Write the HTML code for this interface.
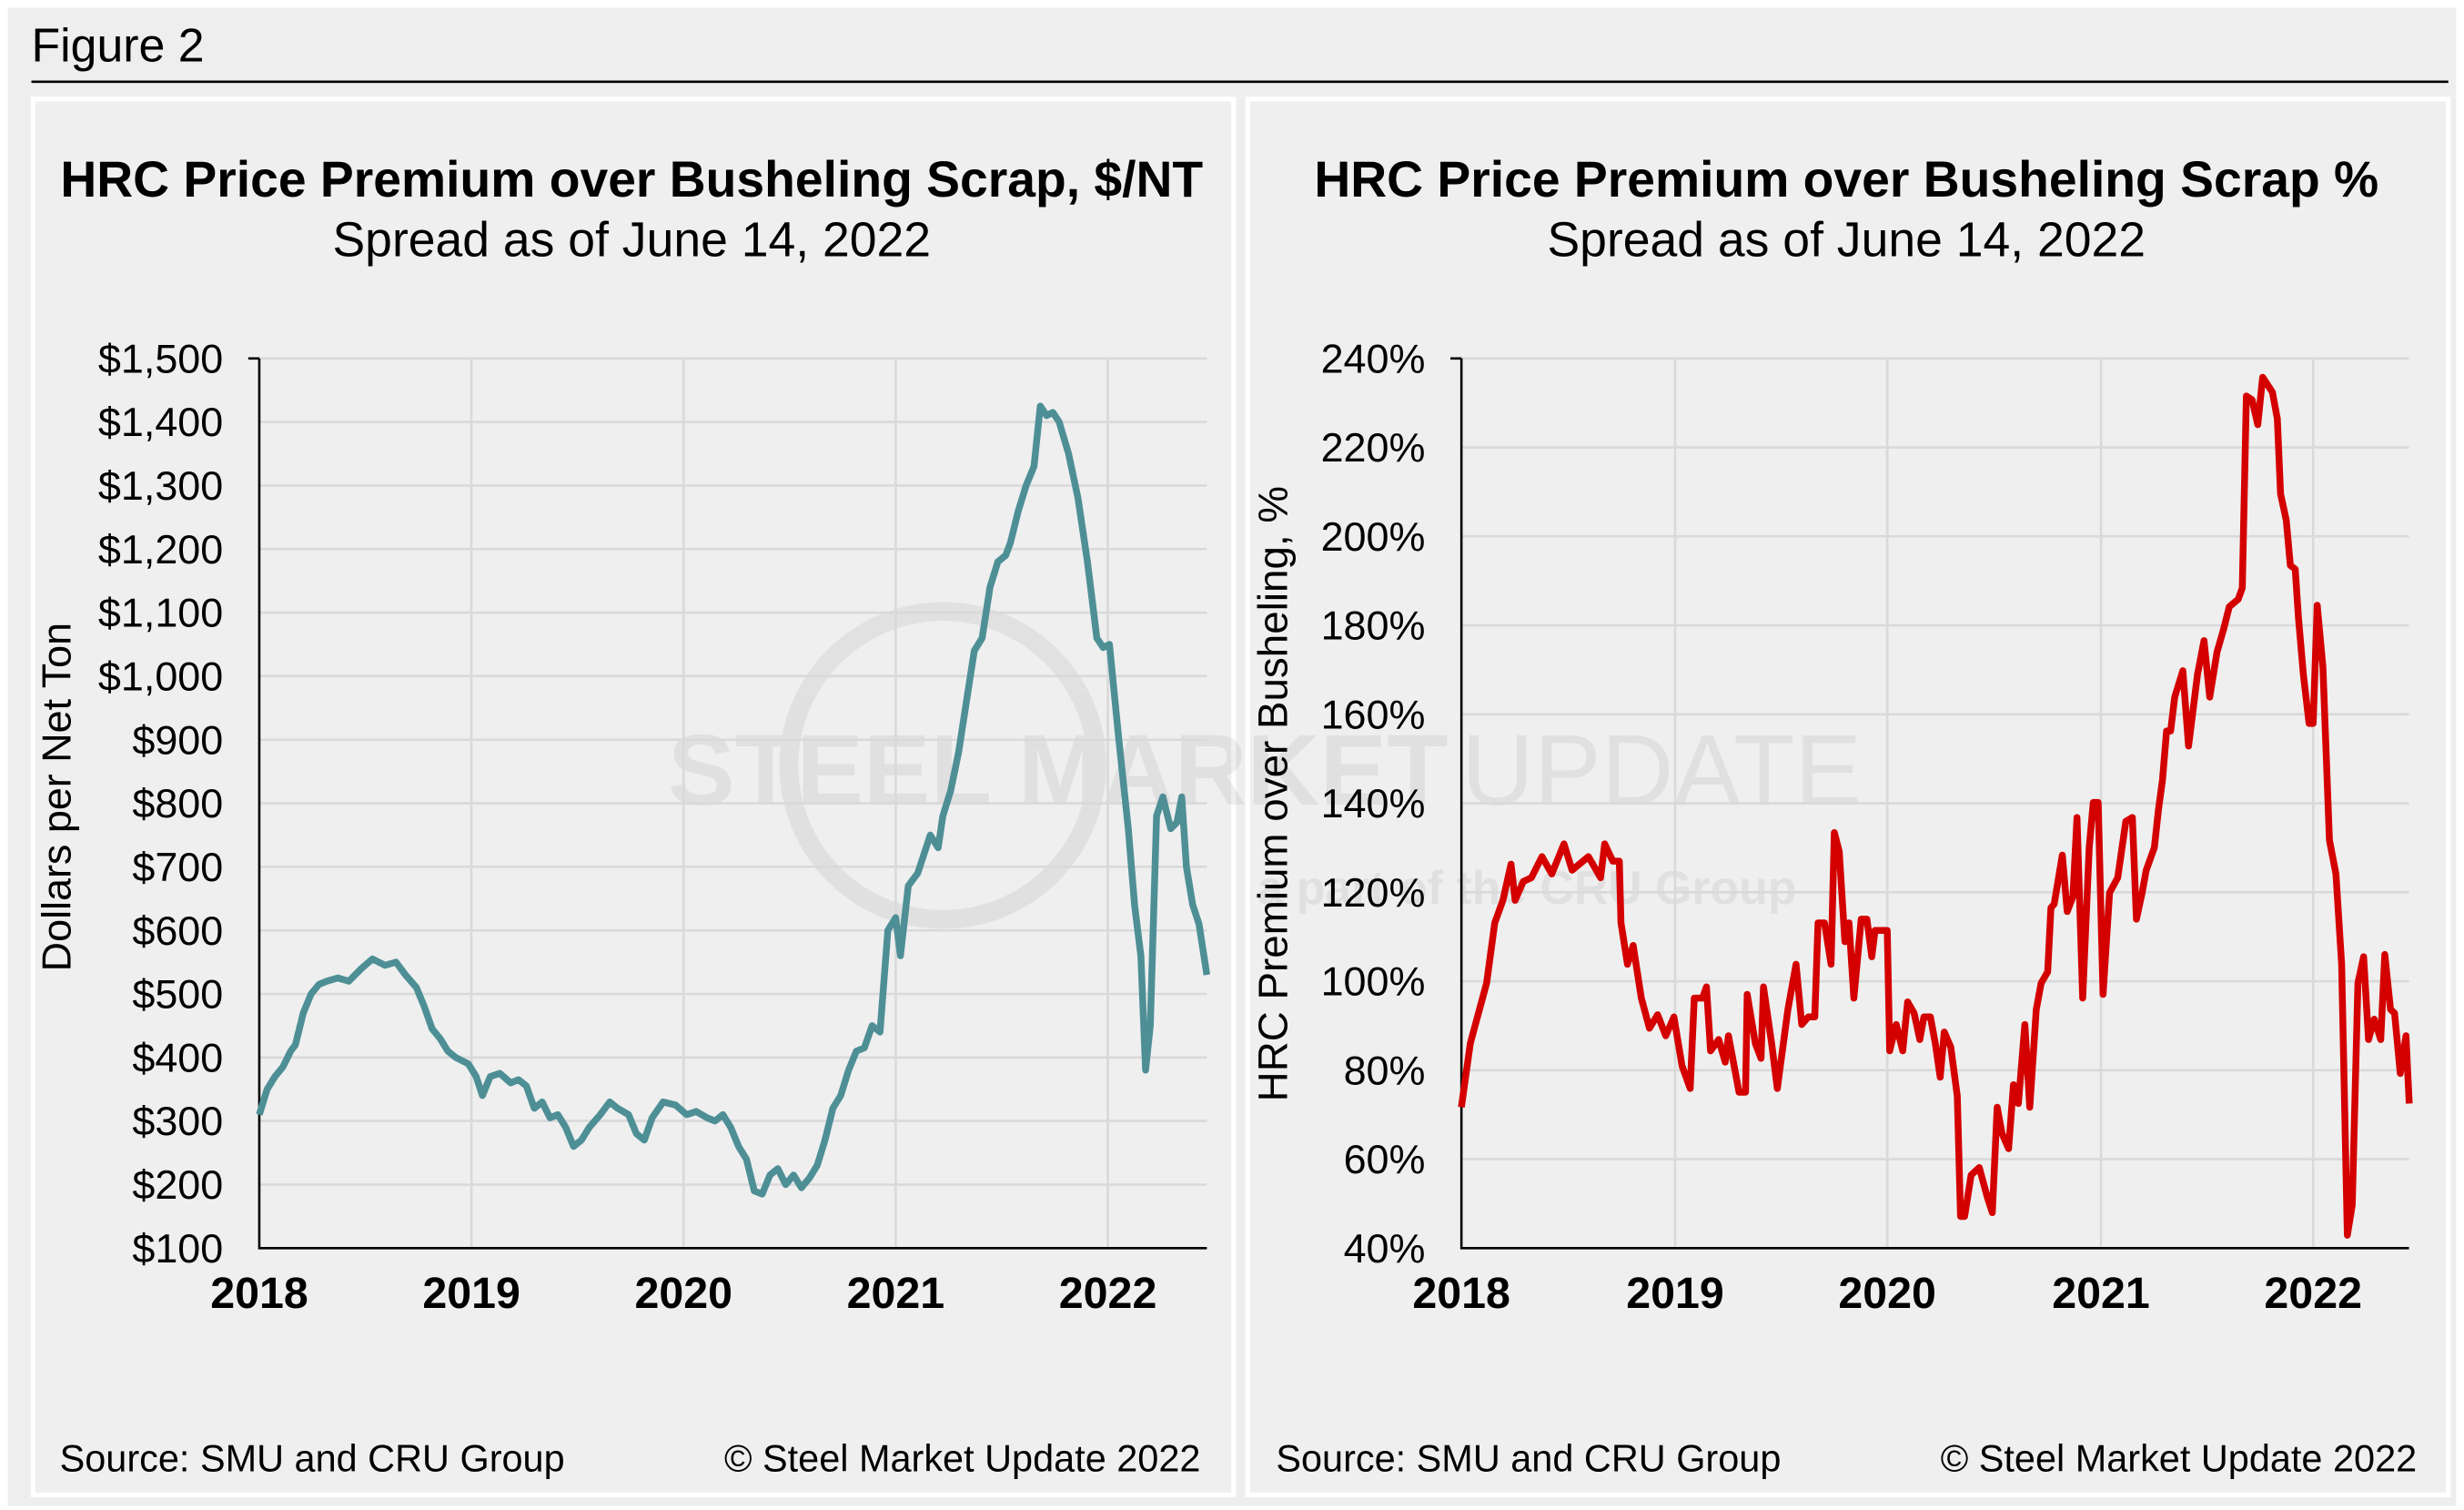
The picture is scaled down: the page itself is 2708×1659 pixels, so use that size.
<!DOCTYPE html>
<html><head><style>html,body{margin:0;padding:0;background:#fff}svg{display:block}</style></head>
<body>
<svg width="2708" height="1659" viewBox="0 0 1568 960.6" xmlns="http://www.w3.org/2000/svg" font-family="Liberation Sans, Arial, sans-serif">
<rect x="5" y="5" width="1558" height="953" fill="#eeeeee"/>
<text x="20" y="39" font-size="30" fill="#000">Figure 2</text>
<line x1="20" y1="52" x2="1558" y2="52" stroke="#000" stroke-width="1.5"/>
<rect x="21" y="63" width="764" height="888" fill="#efefef" stroke="#fff" stroke-width="3"/>
<rect x="794" y="63" width="764" height="888" fill="#efefef" stroke="#fff" stroke-width="3"/>

<!-- watermark -->
<g opacity="0.09" fill="#555">
<circle cx="600" cy="487" r="98" fill="none" stroke="#555" stroke-width="12"/>
<text x="425" y="512" font-size="64" font-weight="bold">STEEL MARKET</text>
<text x="930" y="512" font-size="64">UPDATE</text>
<text x="800" y="575" font-size="30" font-weight="bold">a part of the CRU Group</text>
</g>

<!-- Left chart -->
<text x="402" y="125" font-size="32" font-weight="bold" text-anchor="middle">HRC Price Premium over Busheling Scrap, $/NT</text>
<text x="402" y="163" font-size="31" text-anchor="middle">Spread as of June 14, 2022</text>
<g stroke="#d9d9d9" stroke-width="1.5">
<line x1="165" y1="228" x2="768" y2="228"/><line x1="165" y1="268.4" x2="768" y2="268.4"/><line x1="165" y1="308.9" x2="768" y2="308.9"/><line x1="165" y1="349.3" x2="768" y2="349.3"/><line x1="165" y1="389.7" x2="768" y2="389.7"/><line x1="165" y1="430.1" x2="768" y2="430.1"/><line x1="165" y1="470.6" x2="768" y2="470.6"/><line x1="165" y1="511" x2="768" y2="511"/><line x1="165" y1="551.4" x2="768" y2="551.4"/><line x1="165" y1="591.9" x2="768" y2="591.9"/><line x1="165" y1="632.3" x2="768" y2="632.3"/><line x1="165" y1="672.7" x2="768" y2="672.7"/><line x1="165" y1="713.1" x2="768" y2="713.1"/><line x1="165" y1="753.6" x2="768" y2="753.6"/>
<line x1="300" y1="228" x2="300" y2="794"/><line x1="435" y1="228" x2="435" y2="794"/><line x1="570" y1="228" x2="570" y2="794"/><line x1="705" y1="228" x2="705" y2="794"/>
</g>
<g font-size="26" text-anchor="end">
<text x="142" y="237">$1,500</text><text x="142" y="277.4">$1,400</text><text x="142" y="317.9">$1,300</text><text x="142" y="358.3">$1,200</text><text x="142" y="398.7">$1,100</text><text x="142" y="439.1">$1,000</text><text x="142" y="479.6">$900</text><text x="142" y="520">$800</text><text x="142" y="560.4">$700</text><text x="142" y="600.9">$600</text><text x="142" y="641.3">$500</text><text x="142" y="681.7">$400</text><text x="142" y="722.1">$300</text><text x="142" y="762.6">$200</text><text x="142" y="803">$100</text>
</g>
<g font-size="28" font-weight="bold" text-anchor="middle">
<text x="165" y="832">2018</text><text x="300" y="832">2019</text><text x="435" y="832">2020</text><text x="570" y="832">2021</text><text x="705" y="832">2022</text>
</g>
<text transform="translate(45,507) rotate(-90)" font-size="26" text-anchor="middle">Dollars per Net Ton</text>
<path d="M165 228V794H768M158 228H165" fill="none" stroke="#000" stroke-width="1.5"/>
<polyline transform="matrix(1 0 0 -0.40429 0 834.43)" vector-effect="non-scaling-stroke" fill="none" stroke="#4e8f96" stroke-width="7.5" stroke-linejoin="round"
points="165,310 170,350 175,370 180,385 185,410 188,420 193,470 198,500 203,515 208,520 215,525 222,520 230,540 237,555 245,545 252,550 258,530 265,510 270,480 275,445 280,430 285,410 290,400 298,390 303,370 307,340 312,370 318,375 325,360 330,365 335,355 340,320 345,330 350,305 355,310 360,290 365,260 370,270 375,290 382,310 388,330 393,320 400,310 405,280 410,270 415,305 422,330 430,325 437,310 443,315 450,305 455,300 460,310 465,290 470,260 475,240 480,190 485,185 490,215 495,225 500,200 505,215 510,195 515,210 520,230 525,270 530,320 535,340 540,380 545,410 550,415 555,450 560,440 565,600 570,620 573,560 578,670 584,690 588,720 592,750 597,730 600,780 605,820 610,880 615,960 620,1040 625,1060 630,1140 635,1180 640,1190 643,1210 648,1260 653,1300 658,1330 662,1425 666,1410 670,1415 674,1400 680,1350 686,1280 692,1180 698,1060 702,1045 706,1050 712,900 718,760 722,640 726,560 729,380 732,450 736,780 740,810 745,760 749,770 752,810 755,700 759,640 763,610 768,530"/>

<!-- Right chart -->
<text x="1175" y="125" font-size="32" font-weight="bold" text-anchor="middle">HRC Price Premium over Busheling Scrap %</text>
<text x="1175" y="163" font-size="31" text-anchor="middle">Spread as of June 14, 2022</text>
<g stroke="#d9d9d9" stroke-width="1.5">
<line x1="930" y1="228" x2="1533" y2="228"/><line x1="930" y1="284.6" x2="1533" y2="284.6"/><line x1="930" y1="341.2" x2="1533" y2="341.2"/><line x1="930" y1="397.8" x2="1533" y2="397.8"/><line x1="930" y1="454.4" x2="1533" y2="454.4"/><line x1="930" y1="511" x2="1533" y2="511"/><line x1="930" y1="567.6" x2="1533" y2="567.6"/><line x1="930" y1="624.2" x2="1533" y2="624.2"/><line x1="930" y1="680.8" x2="1533" y2="680.8"/><line x1="930" y1="737.4" x2="1533" y2="737.4"/>
<line x1="1066" y1="228" x2="1066" y2="794"/><line x1="1201" y1="228" x2="1201" y2="794"/><line x1="1337" y1="228" x2="1337" y2="794"/><line x1="1472" y1="228" x2="1472" y2="794"/>
</g>
<g font-size="26" text-anchor="end">
<text x="907" y="237">240%</text><text x="907" y="293.6">220%</text><text x="907" y="350.2">200%</text><text x="907" y="406.8">180%</text><text x="907" y="463.4">160%</text><text x="907" y="520">140%</text><text x="907" y="576.6">120%</text><text x="907" y="633.2">100%</text><text x="907" y="689.8">80%</text><text x="907" y="746.4">60%</text><text x="907" y="803">40%</text>
</g>
<g font-size="28" font-weight="bold" text-anchor="middle">
<text x="930" y="832">2018</text><text x="1066" y="832">2019</text><text x="1201" y="832">2020</text><text x="1337" y="832">2021</text><text x="1472" y="832">2022</text>
</g>
<text transform="translate(819,505) rotate(-90)" font-size="26.5" text-anchor="middle">HRC Premium over Busheling, %</text>
<path d="M930 228V794H1533M923 228H930" fill="none" stroke="#000" stroke-width="1.5"/>
<polyline transform="matrix(0.5182 0 0 0.4788 751.7 204.06)" vector-effect="non-scaling-stroke" fill="none" stroke="#d40000" stroke-width="7.5" stroke-linejoin="round"
points="344,1045 355,960 365,920 375,880 385,800 395,770 405,722 410,770 420,745 430,740 443,712 455,735 470,695 480,730 500,712 515,740 520,695 530,718 538,718 540,800 548,855 555,830 565,900 575,940 585,922 595,950 605,925 615,990 625,1020 630,900 640,900 645,885 650,970 660,955 668,985 672,950 685,1025 693,1025 695,895 705,960 712,980 715,885 725,960 732,1020 745,915 755,855 762,935 770,925 778,925 782,800 790,800 798,855 802,680 808,705 815,825 820,800 826,900 835,795 842,795 848,845 852,810 867,810 870,970 878,935 886,970 892,905 900,920 907,955 912,925 920,925 926,960 932,1005 937,945 945,965 953,1030 957,1190 962,1190 970,1135 980,1125 990,1165 996,1185 1002,1045 1008,1080 1016,1100 1022,1015 1028,1040 1036,935 1042,1045 1050,915 1056,880 1064,865 1068,780 1072,775 1082,710 1088,785 1095,765 1100,660 1107,900 1115,700 1120,640 1126,640 1132,895 1140,760 1150,740 1160,665 1168,660 1173,795 1180,760 1185,730 1195,700 1200,650 1205,610 1210,545 1215,545 1220,500 1230,465 1237,565 1248,470 1256,425 1263,500 1272,440 1280,410 1287,380 1298,370 1303,355 1308,100 1315,105 1322,138 1328,75 1340,95 1346,130 1350,230 1357,265 1362,325 1368,330 1372,395 1378,470 1385,535 1390,535 1395,378 1402,460 1410,690 1418,735 1425,855 1432,1215 1438,1175 1445,880 1452,845 1458,955 1465,928 1473,955 1478,842 1485,915 1490,920 1497,1000 1504,950 1508,1040"/>

<!-- Sources -->
<g font-size="24">
<text x="38" y="936">Source: SMU and CRU Group</text>
<text x="764" y="936" text-anchor="end">© Steel Market Update 2022</text>
<text x="812" y="936">Source: SMU and CRU Group</text>
<text x="1538" y="936" text-anchor="end">© Steel Market Update 2022</text>
</g>
</svg>
</body></html>
